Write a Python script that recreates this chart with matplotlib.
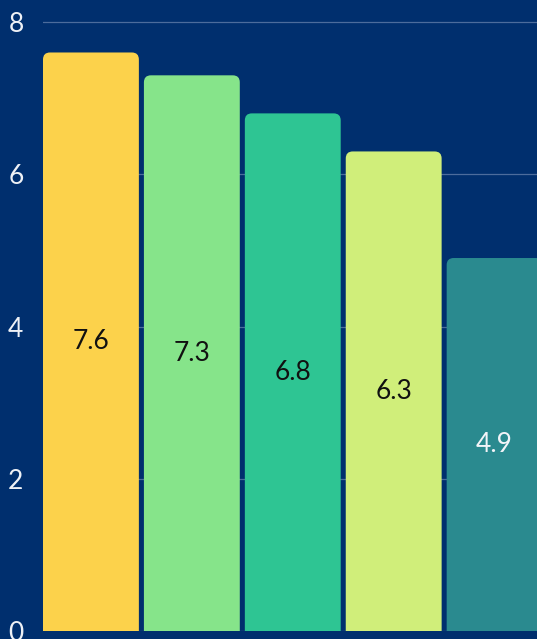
import matplotlib.pyplot as plt
from matplotlib.patches import FancyBboxPatch

# valeurs
categories = ['A', 'B', 'C', 'D', 'E']
values = [7.6, 7.3, 6.8, 6.3, 4.9]
bar_colors = ['#FCD24B', '#86E48A', '#2EC593', '#D0EE7A', '#2A8A8F']
label_colors = ['#111111', '#111111', '#111111', '#111111', '#F2F4F8']
yticks = [0, 2, 4, 6, 8]

bg = '#002F6E'
plt.rcParams['font.family'] = ['Lato', 'DejaVu Sans']

fig = plt.figure(figsize=(5.37, 6.39), dpi=100, facecolor=bg)
ax = fig.add_axes([43 / 537, 8 / 639, 1 - 43 / 537, 1 - 8 / 639])
ax.set_facecolor(bg)

x = list(range(len(categories)))
width = 0.95
bars = ax.bar(x, values, width=width, color=bar_colors, zorder=2)

ax.set_xlim(-width / 2, 4.42)
ax.set_ylim(0, 8 + 22 / 76)

# coins arrondis en haut des barres
px_x = (4.42 + width / 2) / (537 - 43)
px_y = (8 + 22 / 76) / (639 - 8)
r = 7 * px_x
for b, c in zip(bars, bar_colors):
    b.set_visible(False)
    x0 = b.get_x()
    h = b.get_height()
    p = FancyBboxPatch((x0, -0.3), b.get_width(), h + 0.3,
                       boxstyle=f'round,pad=0,rounding_size={r}',
                       mutation_aspect=px_y / px_x,
                       facecolor=c, edgecolor='none', zorder=2)
    ax.add_patch(p)

for xi, v, lc in zip(x, values, label_colors):
    ax.text(xi, v / 2, f'{v}', ha='center', va='center', fontsize=19, color=lc, zorder=3)

ax.set_yticks(yticks)
ax.set_xticks([])
ax.tick_params(axis='y', length=0, pad=14, labelsize=19, labelcolor='#EEF1F6')
ax.grid(axis='y', color='#4C6C9C', linewidth=0.9, zorder=1)
for s in ax.spines.values():
    s.set_visible(False)

fig.savefig('out.png', dpi=100, facecolor=bg)
